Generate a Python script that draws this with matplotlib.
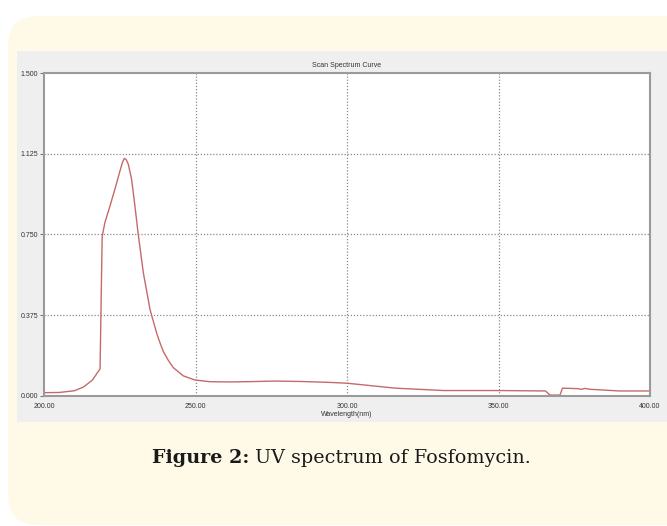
import matplotlib
matplotlib.use("Agg")
import matplotlib.pyplot as plt
from matplotlib.patches import FancyBboxPatch, Rectangle

# ---- data ----
wavelength = [200, 205, 210, 213, 216, 218.5, 219.2, 220.1, 221.8, 223.4, 225.1,
              225.9, 226.5, 227.1, 227.8, 228.9, 230.0, 231.1, 232.8, 235.0, 237.2,
              238.3, 239.4, 241.0, 242.7, 246.0, 249.8, 254.8, 262, 270, 276, 285,
              294, 300, 316, 332, 350, 365.5, 367.0, 370.3, 371.1, 375.8, 377.5,
              378.5, 380, 390, 400]
absorbance = [0.014, 0.015, 0.023, 0.040, 0.073, 0.125, 0.740, 0.805, 0.883, 0.960, 1.046,
              1.085, 1.103, 1.098, 1.077, 1.007, 0.883, 0.750, 0.570, 0.400, 0.290,
              0.245, 0.205, 0.165, 0.130, 0.092, 0.073, 0.065, 0.064, 0.066, 0.068, 0.066,
              0.062, 0.058, 0.035, 0.024, 0.024, 0.022, 0.003, 0.003, 0.035, 0.033, 0.030,
              0.034, 0.030, 0.022, 0.022]
x_ticks = [200, 250, 300, 350, 400]
x_tick_labels = ["200.00", "250.00", "300.00", "350.00", "400.00"]
y_ticks = [0.0, 0.375, 0.75, 1.125, 1.5]
y_tick_labels = ["0.000", "0.375", "0.750", "1.125", "1.500"]
title = "Scan Spectrum Curve"
xlabel = "Wavelength(nm)"
caption_bold = "Figure 2:"
caption_rest = " UV spectrum of Fosfomycin."

W, H = 667, 526
fig = plt.figure(figsize=(W / 100, H / 100), dpi=100)
fig.patch.set_facecolor("white")

def fx(px):
    return px / W

def fy(py):
    return 1 - py / H

# cream rounded card
card = FancyBboxPatch((fx(8), fy(525)), fx(700), fy(16) - fy(525),
                      boxstyle="round,pad=0,rounding_size=0.045",
                      transform=fig.transFigure, facecolor="#fffae8",
                      edgecolor="none", zorder=0, mutation_aspect=W / H)
fig.patches.append(card)
# gray panel
panel = Rectangle((fx(17), fy(422)), fx(W - 17), fy(51) - fy(422),
                  transform=fig.transFigure, facecolor="#efefef",
                  edgecolor="none", zorder=0.5)
fig.patches.append(panel)

ax = fig.add_axes([fx(44), fy(395.7), fx(650 - 44), fy(73) - fy(395.7)])
ax.set_zorder(3)
ax.set_facecolor("white")
ax.plot(wavelength, absorbance, color="#c46a6a", lw=1.0)
ax.set_xlim(200, 400)
ax.set_ylim(0, 1.5)

for v in [250, 300, 350]:
    ax.axvline(v, color="#8a8a8a", lw=0.9, ls=(0, (1, 1.5)), zorder=0)
for v in [0.375, 0.75, 1.125]:
    ax.axhline(v, color="#8a8a8a", lw=0.9, ls=(0, (1, 1.5)), zorder=0)

for s in ax.spines.values():
    s.set_color("#9a9a9a")
    s.set_linewidth(1.5)

tick_font = dict(family="Liberation Sans", size=5)
ax.set_xticks(x_ticks)
ax.set_xticklabels(x_tick_labels, **tick_font, color="#333333")
ax.set_yticks(y_ticks)
ax.set_yticklabels(y_tick_labels, **tick_font, color="#333333")
ax.tick_params(axis="x", length=0, pad=5)
ax.tick_params(axis="y", length=3, width=0.8, color="#777777", pad=1)
ax.set_xlabel(xlabel, fontfamily="Liberation Sans", fontsize=5, color="#333333", labelpad=1)
ax.set_title(title, fontfamily="Liberation Sans", fontsize=5, color="#333333", pad=4)

# caption
fig.canvas.draw()
r = fig.canvas.get_renderer()
cap_font = dict(family="DejaVu Serif", size=12, color="#1a1a1a")
tb = fig.text(0, fy(458), caption_bold, fontweight="bold", va="center", ha="left", **cap_font)
tr = fig.text(0, fy(458), caption_rest, va="center", ha="left", **cap_font)
wb = tb.get_window_extent(r).width
wr = tr.get_window_extent(r).width
scale = 377.0 / (wb + wr)
for t in (tb, tr):
    t.set_fontsize(12 * scale)
fig.canvas.draw()
wb = tb.get_window_extent(r).width
wr = tr.get_window_extent(r).width
x0 = 341.5 - (wb + wr) / 2
tb.set_x(fx(x0))
tr.set_x(fx(x0 + wb))

fig.savefig("out.png", dpi=100, facecolor="white")
